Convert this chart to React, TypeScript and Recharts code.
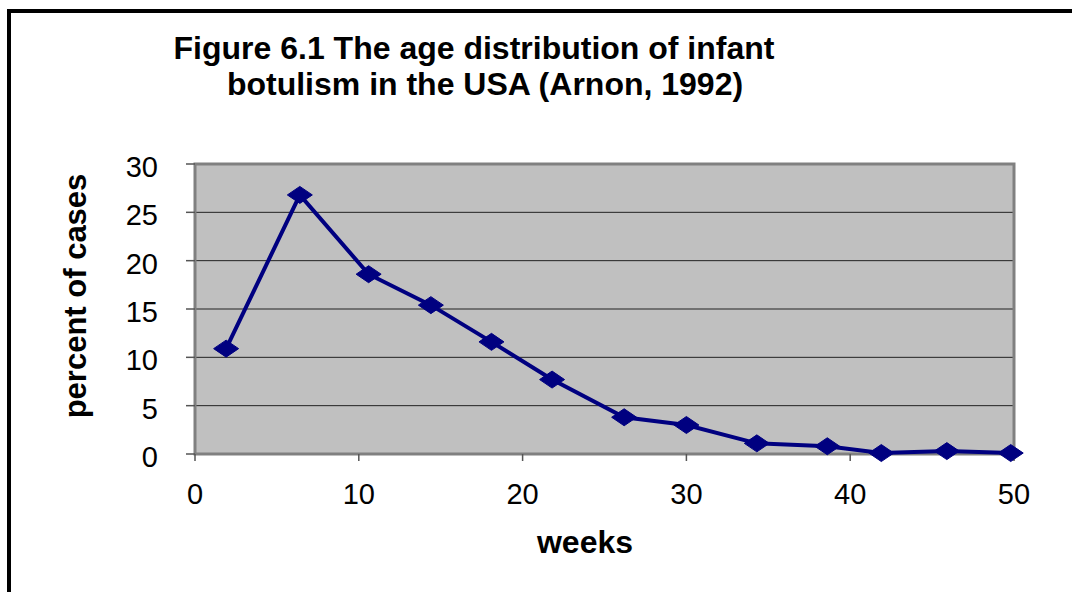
import React from 'react';
import { LineChart, Line, XAxis, YAxis, CartesianGrid, ReferenceArea } from 'recharts';

const weeks = [1.9, 6.4, 10.6, 14.4, 18.1, 21.8, 26.2, 30.0, 34.3, 38.6, 41.9, 45.9, 49.8];
const percentOfCases = [10.9, 26.8, 18.6, 15.4, 11.6, 7.7, 3.8, 3.0, 1.1, 0.8, 0.1, 0.3, 0.1];
const xTicks = [0, 10, 20, 30, 40, 50];
const yTicks = [0, 5, 10, 15, 20, 25, 30];
const titleLines = ['Figure 6.1 The age distribution of infant', 'botulism in the USA (Arnon, 1992)'];
const xLabel = 'weeks';
const yLabel = 'percent of cases';

const data = weeks.map((w, i) => ({ week: w, pct: percentOfCases[i] }));

const FONT = '"Liberation Sans", Arial, Helvetica, sans-serif';
const NAVY = '#000080';

const Diamond = (props: any) => {
  const { cx, cy } = props;
  if (cx == null || cy == null) return null;
  const hw = 12.5;
  const hh = 8.5;
  return (
    <polygon
      points={`${cx - hw},${cy} ${cx},${cy - hh} ${cx + hw},${cy} ${cx},${cy + hh}`}
      fill={NAVY}
      stroke={NAVY}
      strokeWidth={1}
    />
  );
};

const XTick = (props: any) => {
  const { x, y, payload } = props;
  return (
    <text x={x} y={y + 41} textAnchor="middle" fontSize={29} fontFamily={FONT} fill="#000">
      {payload.value}
    </text>
  );
};

const YTick = (props: any) => {
  const { x, y, payload } = props;
  return (
    <text x={x - 26} y={y + 13} textAnchor="end" fontSize={29} fontFamily={FONT} fill="#000">
      {payload.value}
    </text>
  );
};

export default function App() {
  return (
    <div style={{ position: 'absolute', left: 0, top: 0, width: 1072, height: 592, background: '#fff', overflow: 'hidden' }}>
      <div
        style={{
          position: 'absolute',
          left: 7,
          top: 9,
          width: 1100,
          height: 700,
          borderTop: '4px solid #000',
          borderLeft: '4px solid #000',
          boxSizing: 'border-box',
        }}
      />
      <div style={{ position: 'absolute', left: 0, top: 0 }}>
        <LineChart
          width={1072}
          height={592}
          data={data}
          margin={{ top: 164, right: 58, bottom: 78, left: 95 }}
        >
          <CartesianGrid vertical={false} stroke="#222" strokeWidth={1} fill="#C0C0C0" fillOpacity={1} />
          <ReferenceArea x1={0} x2={50} y1={0} y2={30} fill="none" stroke="#808080" strokeWidth={3} />
          <XAxis
            type="number"
            dataKey="week"
            domain={[0, 50]}
            ticks={xTicks}
            axisLine={false}
            tickLine={{ stroke: '#555', strokeWidth: 1.5 }}
            tickSize={7}
            height={60}
            tick={<XTick />}
            label={{
              content: () => (
                <text x={585} y={553} textAnchor="middle" fontSize={32} fontWeight="bold" fontFamily={FONT} fill="#000">
                  {xLabel}
                </text>
              ),
            }}
          />
          <YAxis
            type="number"
            domain={[0, 30]}
            ticks={yTicks}
            axisLine={false}
            tickLine={{ stroke: '#555', strokeWidth: 1.5 }}
            tickSize={9}
            width={100}
            tick={<YTick />}
            label={{
              content: () => (
                <text
                  x={86}
                  y={296}
                  transform="rotate(-90, 86, 296)"
                  textAnchor="middle"
                  fontSize={31}
                  fontWeight="bold"
                  fontFamily={FONT}
                  fill="#000"
                >
                  {yLabel}
                </text>
              ),
            }}
          />
          <Line
            type="linear"
            dataKey="pct"
            stroke={NAVY}
            strokeWidth={4}
            dot={<Diamond />}
            activeDot={false}
            isAnimationActive={false}
          />
        </LineChart>
      </div>
      <svg width={1072} height={120} style={{ position: 'absolute', left: 0, top: 0 }}>
        <text x={474} y={59} textAnchor="middle" fontSize={32} fontWeight="bold" fontFamily={FONT} fill="#000">
          {titleLines[0]}
        </text>
        <text x={485} y={95} textAnchor="middle" fontSize={32} fontWeight="bold" fontFamily={FONT} fill="#000">
          {titleLines[1]}
        </text>
      </svg>
    </div>
  );
}
